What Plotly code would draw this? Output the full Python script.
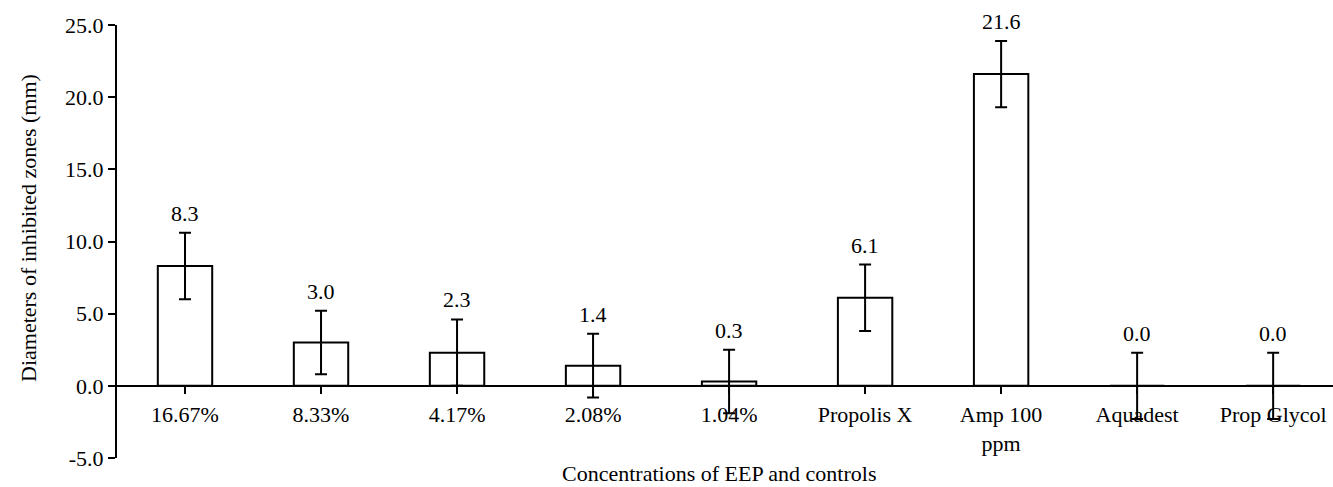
import plotly.graph_objects as go

categories = ["16.67%", "8.33%", "4.17%", "2.08%", "1.04%", "Propolis X",
              "Amp 100<br>ppm", "Aquadest", "Prop Glycol"]
values = [8.3, 3.0, 2.3, 1.4, 0.3, 6.1, 21.6, 0.0, 0.0]
errors = [2.3, 2.2, 2.3, 2.2, 2.2, 2.3, 2.3, 2.3, 2.3]
labels = ["8.3", "3.0", "2.3", "1.4", "0.3", "6.1", "21.6", "0.0", "0.0"]
y_ticks = [-5, 0, 5, 10, 15, 20, 25]
y_tick_labels = ["-5.0", "0.0", "5.0", "10.0", "15.0", "20.0", "25.0"]

FONT = "Liberation Serif"
FS = 22

W, H = 1333, 487
ML, MR, MT, MB = 117, 0, 25, 29
PW, PH = W - ML - MR, H - MT - MB

fig = go.Figure()
fig.add_trace(go.Bar(
    x=list(range(len(categories))), y=values,
    width=0.4,
    marker=dict(color="white", line=dict(color="black", width=2)),
    error_y=dict(type="data", array=errors, visible=True,
                 color="black", thickness=2, width=6),
    showlegend=False,
))

for i, (v, e, t) in enumerate(zip(values, errors, labels)):
    fig.add_annotation(x=i, y=v + e, text=t, showarrow=False,
                       xref="x", yref="y", yanchor="bottom", yshift=5,
                       font=dict(family=FONT, size=FS, color="black"))

# axis titles as annotations for exact placement
fig.add_annotation(xref="paper", yref="paper",
                   x=(28 - ML) / PW, y=(H - MB - 228) / PH,
                   xanchor="center", yanchor="middle",
                   text="Diameters of inhibited zones (mm)",
                   showarrow=False, textangle=-90,
                   font=dict(family=FONT, size=FS, color="black"))
fig.add_annotation(xref="paper", yref="paper",
                   x=(719 - ML) / PW, y=(H - MB - 473) / PH,
                   xanchor="center", yanchor="middle",
                   text="Concentrations of EEP and controls", showarrow=False,
                   font=dict(family=FONT, size=FS, color="black"))

fig.update_layout(
    width=W, height=H,
    margin=dict(l=ML, r=MR, t=MT, b=MB),
    paper_bgcolor="white", plot_bgcolor="white",
    font=dict(family=FONT, size=FS, color="black"),
)

fig.update_xaxes(
    range=[-0.5, 8.44],
    tickvals=list(range(len(categories))), ticktext=categories,
    tickson="boundaries",
    anchor="free", position=5 / 30,
    showline=True, linecolor="black", linewidth=2,
    ticks="outside", ticklen=7, tickwidth=2, tickcolor="black",
    showgrid=False, zeroline=False, automargin=False,
    ticklabelstandoff=2,
    tickfont=dict(family=FONT, size=FS, color="black"),
)
fig.update_yaxes(
    range=[-5, 25], tickvals=y_ticks, ticktext=y_tick_labels,
    showline=True, linecolor="black", linewidth=2,
    ticks="outside", ticklen=7, tickwidth=2, tickcolor="black",
    showgrid=False, zeroline=False, automargin=False,
    tickfont=dict(family=FONT, size=FS, color="black"),
)

fig.write_html("out.html", config={"displayModeBar": False},
               post_script="document.body.style.margin='0';")
